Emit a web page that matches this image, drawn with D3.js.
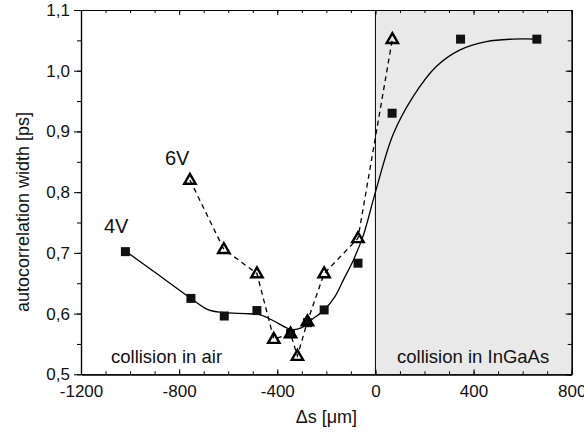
<!DOCTYPE html>
<html><head><meta charset="utf-8">
<script src="https://cdn.jsdelivr.net/npm/d3@7"></script>
<style>
html,body{margin:0;padding:0;background:#fff;}
svg{display:block;font-family:"Liberation Sans",Arial,sans-serif;}
</style></head>
<body>
<svg id="c" width="584" height="440"></svg>
<script>
// ---- data ----
const sq4x = [-1019, -752, -616, -483, -346, -277, -209, -71, 68, 347, 658];
const sq4y = [0.702, 0.625, 0.596, 0.605, 0.567, 0.585, 0.606, 0.683, 0.930, 1.052, 1.052];
const tr6x = [-756, -618, -483, -414, -346, -318, -277, -209, -71, 69];
const tr6y = [0.820, 0.706, 0.666, 0.558, 0.567, 0.530, 0.587, 0.666, 0.724, 1.052];
const fitX = [-1019, -892, -752, -680, -600, -530, -470, -410, -345, -300, -260, -209, -165, -130, -90, -50, 0, 72, 153, 248, 343, 452, 559, 658];
const fitY = [0.703, 0.666, 0.625, 0.606, 0.601, 0.600, 0.598, 0.587, 0.574, 0.577, 0.590, 0.606, 0.628, 0.656, 0.688, 0.728, 0.800, 0.895, 0.957, 1.007, 1.034, 1.048, 1.052, 1.052];
const xTicks = [-1200, -800, -400, 0, 400, 800];
const yTicks = [0.5, 0.6, 0.7, 0.8, 0.9, 1.0, 1.1];
const regionLabels = ["collision in air", "collision in InGaAs"];
const seriesLabels = ["4V", "6V"];

const svg = d3.select("#c");
const L = 81, R = 571.7, T = 10, B = 374.3;
const x = d3.scaleLinear().domain([-1200, 800]).range([L, R]);
const y = d3.scaleLinear().domain([0.5, 1.1]).range([B, T]);
const FF = "Liberation Sans, Arial, sans-serif";

// shaded region
svg.append("rect").attr("x", x(0)).attr("y", T).attr("width", x(800) - x(0)).attr("height", B - T)
  .attr("fill", "#e9e9e9");
svg.append("line").attr("x1", x(0)).attr("x2", x(0)).attr("y1", T).attr("y2", B)
  .attr("stroke", "#000").attr("stroke-width", 1);

// axes
const fmtY = d => d3.format(".1f")(d).replace(".", ",");
const fmtX = d => String(d);
const minorX = d3.range(-1200, 801, 100);
const minorY = d3.range(0, 13).map(i => 0.5 + i * 0.05);

function styleAxis(g) {
  g.select(".domain").attr("stroke", "#000").attr("stroke-width", 1.2);
  g.selectAll(".tick line").attr("stroke", "#000").attr("stroke-width", 1);
}
const styleText = g => g.selectAll("text").attr("font-size", 17).attr("fill", "#111").attr("font-family", FF);

// bottom (inward ticks)
svg.append("g").attr("transform", `translate(0,${B})`)
  .call(d3.axisBottom(x).tickValues(minorX).tickSize(-3).tickSizeOuter(0).tickFormat(""))
  .call(styleAxis);
svg.append("g").attr("transform", `translate(0,${B})`)
  .call(d3.axisBottom(x).tickValues(xTicks).tickSize(-5).tickSizeOuter(0).tickPadding(11).tickFormat(fmtX))
  .call(styleAxis).call(styleText);
// top
svg.append("g").attr("transform", `translate(0,${T})`)
  .call(d3.axisTop(x).tickValues(minorX).tickSize(-3).tickSizeOuter(0).tickFormat(""))
  .call(styleAxis);
svg.append("g").attr("transform", `translate(0,${T})`)
  .call(d3.axisTop(x).tickValues(xTicks).tickSize(-5).tickSizeOuter(0).tickFormat(""))
  .call(styleAxis);
// left (outward ticks)
svg.append("g").attr("transform", `translate(${L},0)`)
  .call(d3.axisLeft(y).tickValues(minorY).tickSize(4).tickSizeOuter(0).tickFormat(""))
  .call(styleAxis);
svg.append("g").attr("transform", `translate(${L},0)`)
  .call(d3.axisLeft(y).tickValues(yTicks).tickSize(7).tickSizeOuter(0).tickPadding(4).tickFormat(fmtY))
  .call(styleAxis).call(styleText);
// right
svg.append("g").attr("transform", `translate(${R},0)`)
  .call(d3.axisRight(y).tickValues(minorY).tickSize(-4).tickSizeOuter(0).tickFormat(""))
  .call(styleAxis);
svg.append("g").attr("transform", `translate(${R},0)`)
  .call(d3.axisRight(y).tickValues(yTicks).tickSize(-6).tickSizeOuter(0).tickFormat(""))
  .call(styleAxis);

// fit curve (4V)
const fitData = fitX.map((v, i) => [v, fitY[i]]);
svg.append("path").datum(fitData)
  .attr("d", d3.line().x(d => x(d[0])).y(d => y(d[1])).curve(d3.curveCatmullRom.alpha(0.5)))
  .attr("fill", "none").attr("stroke", "#000").attr("stroke-width", 1.3);

// dashed line (6V)
const trData = tr6x.map((v, i) => [v, tr6y[i]]);
svg.append("path").datum(trData)
  .attr("d", d3.line().x(d => x(d[0])).y(d => y(d[1])))
  .attr("fill", "none").attr("stroke", "#000").attr("stroke-width", 1.3)
  .attr("stroke-dasharray", "5,4");

// squares
const sqData = sq4x.map((v, i) => [v, sq4y[i]]);
svg.append("g").selectAll("rect").data(sqData).join("rect")
  .attr("x", d => x(d[0]) - 4.5).attr("y", d => y(d[1]) - 4.5)
  .attr("width", 9).attr("height", 9).attr("fill", "#111");

// triangles
const tri = d3.symbol().type(d3.symbolTriangle).size(56);
svg.append("g").selectAll("path").data(trData).join("path")
  .attr("d", tri)
  .attr("transform", d => `translate(${x(d[0])},${y(d[1]) + 0.5})`)
  .attr("fill", "none").attr("stroke", "#000").attr("stroke-width", 2.4)
  .attr("stroke-linejoin", "miter");

// labels
svg.append("text").attr("x", 104).attr("y", 233).attr("font-size", 20).attr("fill", "#111").text(seriesLabels[0]);
svg.append("text").attr("x", 165).attr("y", 165).attr("font-size", 20).attr("fill", "#111").text(seriesLabels[1]);
svg.append("text").attr("x", 111).attr("y", 363).attr("font-size", 18.5).attr("fill", "#111").text(regionLabels[0]);
svg.append("text").attr("x", 397).attr("y", 363).attr("font-size", 18.5).attr("fill", "#111").text(regionLabels[1]);

// axis titles
svg.append("text").attr("x", (L + R) / 2).attr("y", 423).attr("text-anchor", "middle")
  .attr("font-size", 18).attr("fill", "#111").text("\u0394s [\u03bcm]");
svg.append("text").attr("transform", "translate(29,212) rotate(-90)").attr("text-anchor", "middle")
  .attr("font-size", 18).attr("fill", "#111").text("autocorrelation width [ps]");
</script>
</body></html>
